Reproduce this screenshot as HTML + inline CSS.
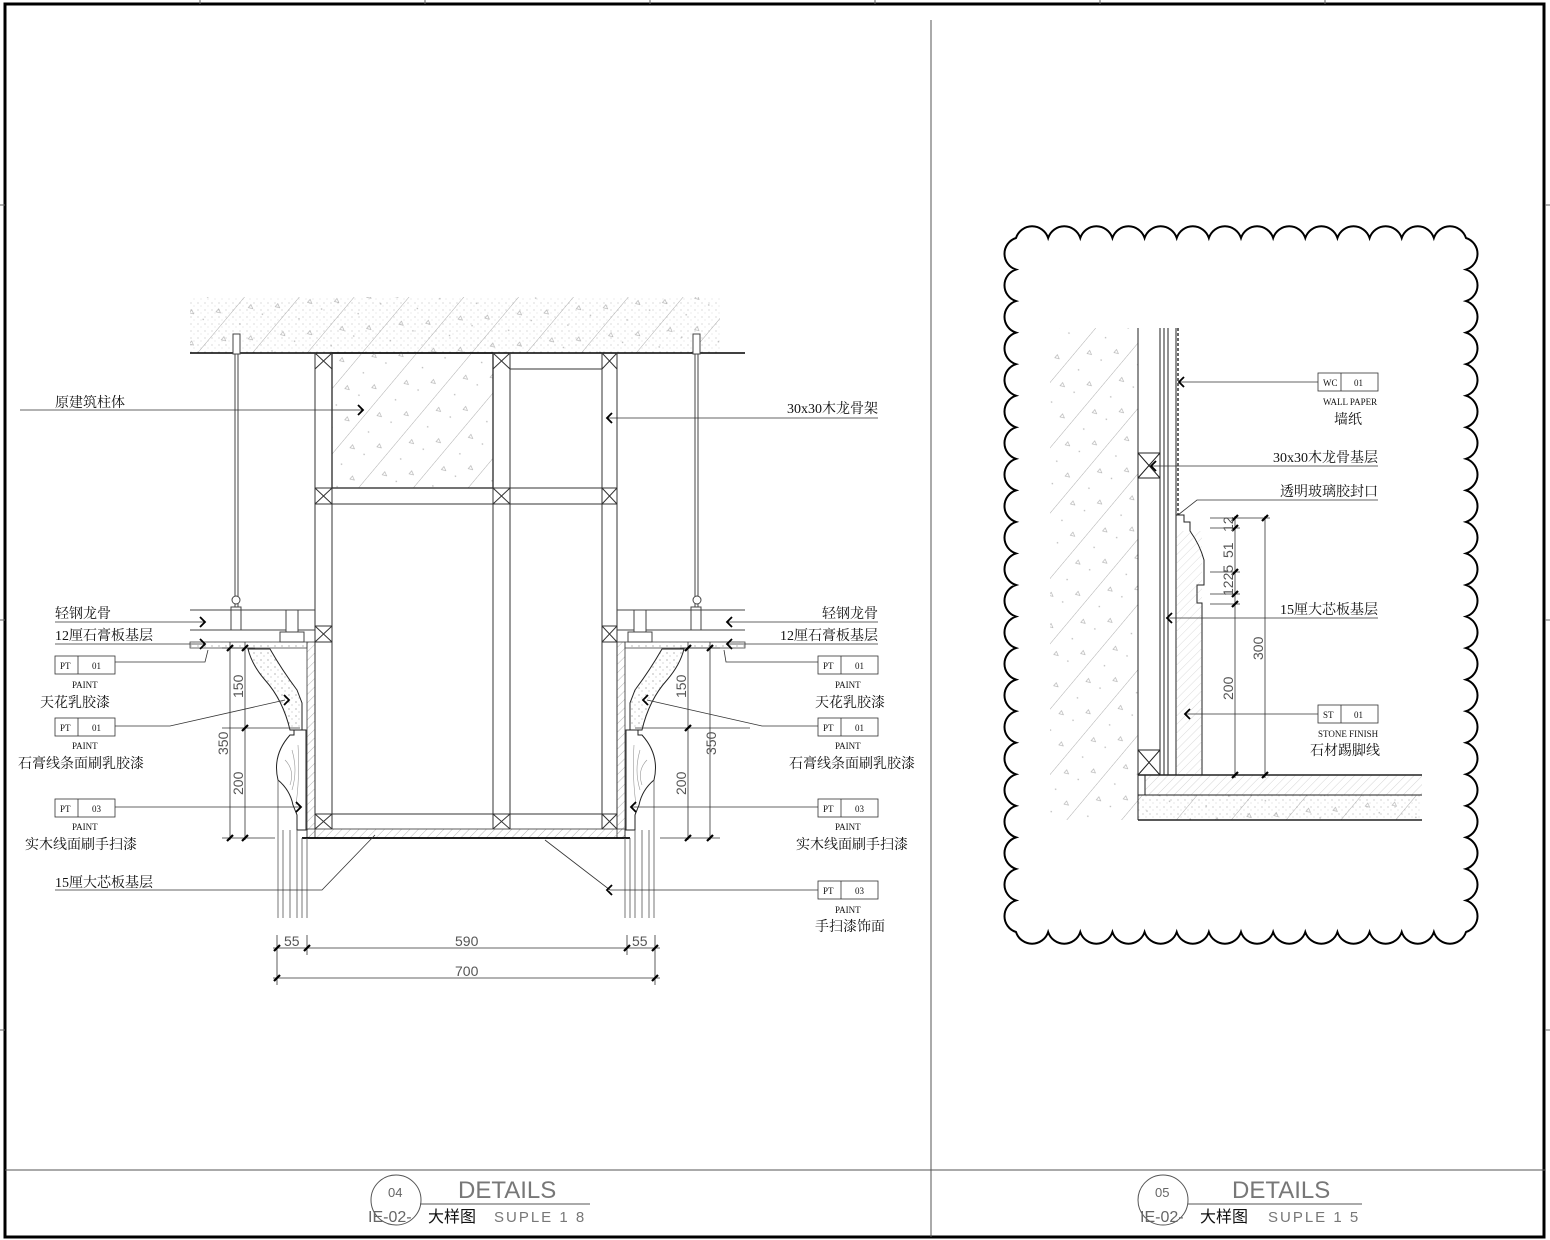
<!DOCTYPE html>
<html><head><meta charset="utf-8"><style>
html,body{margin:0;padding:0;background:#fff}
svg{display:block}
text{font-family:"Liberation Serif","Noto Serif CJK SC","Noto Sans CJK SC",serif;fill:#111}
text.s{font-family:"Liberation Sans","Noto Sans CJK SC",sans-serif}
.dim{font-family:"Liberation Sans",sans-serif;fill:#555;font-size:14px}
</style></head><body>
<svg id="sv" width="1550" height="1240" viewBox="0 0 1550 1240" xmlns="http://www.w3.org/2000/svg">
<defs>
<pattern id="hat" width="42" height="42" patternUnits="userSpaceOnUse" patternTransform="rotate(40)">
<line x1="0" y1="0" x2="0" y2="42" stroke="#999" stroke-width="0.8"/>
<circle cx="14" cy="10" r="0.8" fill="#bbb"/><circle cx="25" cy="30" r="0.8" fill="#bbb"/>
<path d="M30 12 l4 2 l-4 2z" fill="none" stroke="#aaa" stroke-width="0.6"/>
<path d="M10 30 l4 2 l-4 2z" fill="none" stroke="#aaa" stroke-width="0.6"/>
</pattern>
<pattern id="fine" width="6" height="6" patternUnits="userSpaceOnUse" patternTransform="rotate(45)">
<line x1="0" y1="0" x2="0" y2="6" stroke="#888" stroke-width="0.6"/>
</pattern>
<pattern id="dots" width="7" height="7" patternUnits="userSpaceOnUse">
<circle cx="2" cy="2" r="0.6" fill="#888"/><circle cx="5" cy="5" r="0.5" fill="#999"/>
</pattern>
</defs>
<rect x="5" y="4" width="1539" height="1233" fill="none" stroke="#000" stroke-width="3"/>
<g stroke="#666" stroke-width="1">
<line x1="200" y1="0" x2="200" y2="4"/><line x1="425" y1="0" x2="425" y2="4"/><line x1="650" y1="0" x2="650" y2="4"/><line x1="875" y1="0" x2="875" y2="4"/><line x1="1100" y1="0" x2="1100" y2="4"/><line x1="1325" y1="0" x2="1325" y2="4"/>
<line x1="0" y1="205" x2="5" y2="205"/><line x1="0" y1="620" x2="5" y2="620"/><line x1="0" y1="1030" x2="5" y2="1030"/>
<line x1="1545" y1="205" x2="1550" y2="205"/><line x1="1545" y1="620" x2="1550" y2="620"/><line x1="1545" y1="1030" x2="1550" y2="1030"/>
</g>
<line x1="931" y1="20" x2="931" y2="1237" stroke="#555" stroke-width="1"/>
<line x1="5" y1="1170" x2="1545" y2="1170" stroke="#555" stroke-width="1"/>

<rect x="190" y="297" width="530" height="56" fill="url(#hat)"/>
<rect x="190" y="297" width="530" height="56" fill="url(#dots)" opacity="0.5"/>
<line x1="190" y1="353" x2="745" y2="353" stroke="#000" stroke-width="1.5"/>
<rect x="332" y="353" width="161" height="135" fill="url(#hat)" stroke="#000" stroke-width="1.3"/>
<g stroke="#333" stroke-width="1" fill="none">
<line x1="315" y1="353" x2="315" y2="829"/><line x1="332" y1="353" x2="332" y2="829"/>
<line x1="493" y1="353" x2="493" y2="829"/><line x1="510" y1="353" x2="510" y2="829"/>
<line x1="602" y1="353" x2="602" y2="829"/><line x1="617" y1="353" x2="617" y2="829"/>
<line x1="510" y1="369" x2="602" y2="369"/>
<line x1="315" y1="488" x2="617" y2="488"/><line x1="315" y1="504" x2="617" y2="504"/>
<line x1="315" y1="626" x2="332" y2="626"/><line x1="315" y1="642" x2="332" y2="642"/>
<line x1="602" y1="626" x2="617" y2="626"/><line x1="602" y1="642" x2="617" y2="642"/>
<line x1="315" y1="814" x2="617" y2="814"/>
<path d="M315 353 L332 369 M332 353 L315 369 M493 353 L510 369 M510 353 L493 369 M602 353 L617 369 M617 353 L602 369"/>
<path d="M315 488 L332 504 M332 488 L315 504 M493 488 L510 504 M510 488 L493 504 M602 488 L617 504 M617 488 L602 504"/>
<path d="M315 626 L332 642 M332 626 L315 642 M602 626 L617 642 M617 626 L602 642"/>
<path d="M315 814 L332 829 M332 814 L315 829 M493 814 L510 829 M510 814 L493 829 M602 814 L617 829 M617 814 L602 829"/>
</g>
<rect x="307" y="642" width="8" height="196" fill="url(#fine)" stroke="#333" stroke-width="0.8"/>
<rect x="617" y="642" width="8" height="196" fill="url(#fine)" stroke="#333" stroke-width="0.8"/>
<rect x="307" y="829" width="318" height="9" fill="url(#fine)" stroke="#333" stroke-width="0.8"/>
<line x1="302" y1="838" x2="630" y2="838" stroke="#000" stroke-width="1.8"/>
<rect x="190" y="642" width="117" height="6" fill="url(#dots)" stroke="#444" stroke-width="0.8"/>
<rect x="625" y="642" width="120" height="6" fill="url(#dots)" stroke="#444" stroke-width="0.8"/>
<g stroke="#444" stroke-width="1" fill="#fff">
<line x1="235" y1="340" x2="235" y2="620"/><line x1="238" y1="340" x2="238" y2="620"/>
<line x1="695" y1="340" x2="695" y2="620"/><line x1="698" y1="340" x2="698" y2="620"/>
<rect x="233" y="334" width="7" height="20"/><rect x="693" y="334" width="7" height="20"/>
<circle cx="236" cy="600" r="4"/><circle cx="697" cy="600" r="4"/>
<rect x="231" y="607" width="10" height="23"/><rect x="691" y="607" width="10" height="23"/>
<line x1="190" y1="610" x2="315" y2="610"/><line x1="190" y1="630" x2="315" y2="630"/>
<line x1="617" y1="610" x2="745" y2="610"/><line x1="617" y1="630" x2="745" y2="630"/>
<rect x="286" y="610" width="12" height="25"/><rect x="280" y="632" width="24" height="10"/>
<rect x="634" y="610" width="12" height="25"/><rect x="628" y="632" width="24" height="10"/>
</g>
<path d="M248 649 L270 649 Q282 670 297 690 L302 703 L302 730 L290 730 Q283 700 265 680 Q252 665 248 649Z" fill="url(#dots)" stroke="#222" stroke-width="1"/>
<path d="M684 649 L662 649 Q650 670 635 690 L630 703 L630 730 L642 730 Q649 700 667 680 Q680 665 684 649Z" fill="url(#dots)" stroke="#222" stroke-width="1"/>
<path d="M306 730 L294 730 L294 735 L290 735 Q272 755 278 780 Q290 790 293 805 L297 815 L297 830 L306 830Z" fill="#fff" stroke="#222" stroke-width="1"/>
<path d="M626 730 L638 730 L638 735 L642 735 Q660 755 654 780 Q642 790 639 805 L635 815 L635 830 L626 830Z" fill="#fff" stroke="#222" stroke-width="1"/>
<g stroke="#999" stroke-width="0.6" fill="none">
<path d="M285 760 q10 10 5 25 M292 750 q6 20 0 40 M298 745 q2 30 -2 60"/>
<path d="M647 760 q-10 10 -5 25 M640 750 q-6 20 0 40 M634 745 q-2 30 2 60"/>
</g>
<g stroke="#555" stroke-width="0.8">
<line x1="278" y1="780" x2="278" y2="918"/><line x1="283" y1="830" x2="283" y2="918"/><line x1="290" y1="830" x2="290" y2="918"/><line x1="297" y1="830" x2="297" y2="918"/><line x1="302" y1="838" x2="302" y2="918"/><line x1="307" y1="838" x2="307" y2="918"/>
<line x1="654" y1="780" x2="654" y2="918"/><line x1="649" y1="830" x2="649" y2="918"/><line x1="642" y1="830" x2="642" y2="918"/><line x1="635" y1="830" x2="635" y2="918"/><line x1="630" y1="838" x2="630" y2="918"/><line x1="625" y1="838" x2="625" y2="918"/>
</g>
<g stroke="#333" stroke-width="0.8">
<line x1="230" y1="642" x2="230" y2="840"/><line x1="245" y1="642" x2="245" y2="840"/>
<line x1="222" y1="648" x2="255" y2="648"/><line x1="222" y1="728" x2="300" y2="728"/><line x1="222" y1="838" x2="275" y2="838"/>
<line x1="710" y1="642" x2="710" y2="840"/><line x1="688" y1="642" x2="688" y2="840"/>
<line x1="680" y1="648" x2="720" y2="648"/><line x1="635" y1="728" x2="750" y2="728"/><line x1="660" y1="838" x2="720" y2="838"/>
<line x1="273" y1="948" x2="660" y2="948"/><line x1="273" y1="978" x2="660" y2="978"/>
<line x1="277" y1="935" x2="277" y2="985"/><line x1="307" y1="935" x2="307" y2="955"/><line x1="627" y1="935" x2="627" y2="955"/><line x1="655" y1="935" x2="655" y2="985"/>
</g>
<g stroke="#000" stroke-width="2.2">
<path d="M227 651 l6 -6 M242 651 l6 -6 M242 731 l6 -6 M227 841 l6 -6 M242 841 l6 -6"/>
<path d="M707 651 l6 -6 M685 651 l6 -6 M685 731 l6 -6 M707 841 l6 -6 M685 841 l6 -6"/>
<path d="M274 951 l6 -6 M304 951 l6 -6 M624 951 l6 -6 M652 951 l6 -6 M274 981 l6 -6 M652 981 l6 -6"/>
</g>
<text class="dim" transform="translate(243,698) rotate(-90)">150</text>
<text class="dim" transform="translate(243,795) rotate(-90)">200</text>
<text class="dim" transform="translate(228,755) rotate(-90)">350</text>
<text class="dim" transform="translate(686,698) rotate(-90)">150</text>
<text class="dim" transform="translate(686,795) rotate(-90)">200</text>
<text class="dim" transform="translate(716,755) rotate(-90)">350</text>
<text class="dim" x="284" y="946">55</text><text class="dim" x="455" y="946">590</text><text class="dim" x="632" y="946">55</text>
<text class="dim" x="455" y="976">700</text>

<g stroke="#333" stroke-width="0.8" fill="none">
<line x1="20" y1="410" x2="362" y2="410"/>
<line x1="878" y1="418" x2="608" y2="418"/>
<line x1="55" y1="622" x2="205" y2="622"/><line x1="55" y1="644" x2="205" y2="644"/>
<polyline points="115,662 205,662 208,650"/>
<polyline points="115,726 170,726 285,700"/>
<polyline points="115,807 300,807"/>
<polyline points="55,890 322,890 375,835"/>
<line x1="878" y1="622" x2="728" y2="622"/><line x1="878" y1="644" x2="728" y2="644"/>
<polyline points="818,662 726,662 724,650"/>
<polyline points="818,726 762,726 647,700"/>
<polyline points="818,807 632,807"/>
<polyline points="818,890 610,890 545,840"/>
</g>
<g stroke="#000" stroke-width="1.8" fill="none">
<path d="M358 405 l5 5 l-5 5 M612 413 l-5 5 l5 5 M200 617 l5 5 l-5 5 M200 639 l5 5 l-5 5 M732 617 l-5 5 l5 5 M732 639 l-5 5 l5 5 M284 695 l5 5 l-5 5 M648 695 l-5 5 l5 5 M296 802 l5 5 l-5 5 M636 802 l-5 5 l5 5 M612 885 l-5 5 l5 5"/>
</g>
<g font-size="14">
<text x="55" y="407">原建筑柱体</text>
<text x="878" y="413" text-anchor="end">30x30木龙骨架</text>
<text x="55" y="618">轻钢龙骨</text><text x="55" y="640">12厘石膏板基层</text>
<text x="878" y="618" text-anchor="end">轻钢龙骨</text><text x="878" y="640" text-anchor="end">12厘石膏板基层</text>
<text x="40" y="707">天花乳胶漆</text><text x="18" y="768">石膏线条面刷乳胶漆</text>
<text x="25" y="849">实木线面刷手扫漆</text><text x="55" y="887">15厘大芯板基层</text>
<text x="885" y="707" text-anchor="end">天花乳胶漆</text><text x="915" y="768" text-anchor="end">石膏线条面刷乳胶漆</text>
<text x="908" y="849" text-anchor="end">实木线面刷手扫漆</text><text x="885" y="931" text-anchor="end">手扫漆饰面</text>
</g>
<g stroke="#333" stroke-width="0.8" fill="#fff">
<rect x="55" y="656" width="60" height="18"/><line x1="78" y1="656" x2="78" y2="674"/>
<rect x="55" y="718" width="60" height="18"/><line x1="78" y1="718" x2="78" y2="736"/>
<rect x="55" y="799" width="60" height="18"/><line x1="78" y1="799" x2="78" y2="817"/>
<rect x="818" y="656" width="60" height="18"/><line x1="841" y1="656" x2="841" y2="674"/>
<rect x="818" y="718" width="60" height="18"/><line x1="841" y1="718" x2="841" y2="736"/>
<rect x="818" y="799" width="60" height="18"/><line x1="841" y1="799" x2="841" y2="817"/>
<rect x="818" y="881" width="60" height="18"/><line x1="841" y1="881" x2="841" y2="899"/>
</g>
<g font-size="9">
<text x="60" y="669">PT</text><text x="92" y="669">01</text><text x="72" y="688">PAINT</text>
<text x="60" y="731">PT</text><text x="92" y="731">01</text><text x="72" y="749">PAINT</text>
<text x="60" y="812">PT</text><text x="92" y="812">03</text><text x="72" y="830">PAINT</text>
<text x="823" y="669">PT</text><text x="855" y="669">01</text><text x="835" y="688">PAINT</text>
<text x="823" y="731">PT</text><text x="855" y="731">01</text><text x="835" y="749">PAINT</text>
<text x="823" y="812">PT</text><text x="855" y="812">03</text><text x="835" y="830">PAINT</text>
<text x="823" y="894">PT</text><text x="855" y="894">03</text><text x="835" y="913">PAINT</text>
</g>

<path id="cloud" fill="none" stroke="#000" stroke-width="2"/>
<rect x="1050" y="328" width="88" height="492" fill="url(#hat)"/>
<rect x="1138" y="795" width="284" height="25" fill="url(#hat)"/>
<rect x="1138" y="795" width="284" height="25" fill="url(#dots)" opacity="0.6"/>
<rect x="1145" y="775" width="277" height="20" fill="url(#fine)" opacity="0.6"/>
<g stroke="#222" stroke-width="1" fill="none">
<line x1="1138" y1="328" x2="1138" y2="820"/>
<line x1="1160" y1="328" x2="1160" y2="775"/><line x1="1164" y1="328" x2="1164" y2="775"/><line x1="1168" y1="328" x2="1168" y2="775"/><line x1="1176" y1="328" x2="1176" y2="775"/>
<rect x="1138" y="453" width="22" height="25"/><path d="M1138 453 L1160 478 M1160 453 L1138 478"/>
<rect x="1138" y="750" width="22" height="25"/><path d="M1138 750 L1160 775 M1160 750 L1138 775"/>
<line x1="1138" y1="775" x2="1422" y2="775" stroke-width="1.5"/>
<line x1="1145" y1="775" x2="1145" y2="795"/>
<line x1="1138" y1="795" x2="1422" y2="795"/>
<line x1="1138" y1="820" x2="1422" y2="820" stroke-width="1.5"/>
<path d="M1176 515 L1184 515 L1184 522 L1190 522 L1190 531 Q1200 545 1204 560 L1204 585 L1197 585 L1197 603 L1202 603 L1202 775" />
</g>
<rect x="1176" y="531" width="26" height="244" fill="url(#fine)" opacity="0.5"/>
<line x1="1178" y1="328" x2="1178" y2="515" stroke="#000" stroke-width="1.2" stroke-dasharray="3,2"/>
<g stroke="#333" stroke-width="0.8" fill="none">
<line x1="1180" y1="382" x2="1318" y2="382"/>
<line x1="1378" y1="466" x2="1152" y2="466"/>
<polyline points="1378,500 1197,500 1178,515"/>
<line x1="1378" y1="618" x2="1168" y2="618"/>
<line x1="1318" y1="714" x2="1186" y2="714"/>
<line x1="1235" y1="516" x2="1235" y2="778"/><line x1="1265" y1="516" x2="1265" y2="778"/>
<path d="M1210 518 L1270 518 M1210 528 L1240 528 M1210 572 L1240 572 M1210 594 L1240 594 M1210 604 L1240 604"/>
</g>
<g stroke="#000" stroke-width="2.2">
<path d="M1232 521 l6 -6 M1262 521 l6 -6 M1232 531 l6 -6 M1232 575 l6 -6 M1232 597 l6 -6 M1232 607 l6 -6 M1232 778 l6 -6 M1262 778 l6 -6"/>
</g>
<g stroke="#000" stroke-width="1.8" fill="none">
<path d="M1184 377 l-5 5 l5 5 M1156 461 l-5 5 l5 5 M1172 613 l-5 5 l5 5 M1190 709 l-5 5 l5 5"/>
</g>
<text class="dim" transform="translate(1233,532) rotate(-90)">12</text>
<text class="dim" transform="translate(1233,558) rotate(-90)">51</text>
<text class="dim" transform="translate(1233,596) rotate(-90)">1225</text>
<text class="dim" transform="translate(1233,700) rotate(-90)">200</text>
<text class="dim" transform="translate(1263,660) rotate(-90)">300</text>
<g stroke="#333" stroke-width="0.8" fill="#fff">
<rect x="1318" y="373" width="60" height="18"/><line x1="1341" y1="373" x2="1341" y2="391"/>
<rect x="1318" y="705" width="60" height="18"/><line x1="1341" y1="705" x2="1341" y2="723"/>
</g>
<g font-size="9">
<text x="1323" y="386">WC</text><text x="1354" y="386">01</text><text x="1323" y="405">WALL PAPER</text>
<text x="1323" y="718">ST</text><text x="1354" y="718">01</text><text x="1318" y="737">STONE FINISH</text>
</g>
<g font-size="14">
<text x="1334" y="424">墙纸</text>
<text x="1378" y="462" text-anchor="end">30x30木龙骨基层</text>
<text x="1378" y="496" text-anchor="end">透明玻璃胶封口</text>
<text x="1378" y="614" text-anchor="end">15厘大芯板基层</text>
<text x="1310" y="755">石材踢脚线</text>
</g>

<g stroke="#555" stroke-width="1" fill="none">
<circle cx="396" cy="1200" r="25"/><line x1="420" y1="1204" x2="590" y2="1204"/>
<circle cx="1163" cy="1200" r="25"/><line x1="1188" y1="1204" x2="1362" y2="1204"/>
</g>
<text x="388" y="1197" font-size="13" class="s" style="fill:#666">04</text>
<text x="458" y="1198" font-size="24" class="s" style="fill:#777">DETAILS</text>
<text x="368" y="1222" font-size="16" class="s" style="fill:#666">IE-02-</text><text x="428" y="1222" font-size="16" class="s">大样图</text>
<text x="494" y="1222" font-size="15" class="s" style="fill:#777;letter-spacing:2px">SUPLE 1 8</text>
<text x="1155" y="1197" font-size="13" class="s" style="fill:#666">05</text>
<text x="1232" y="1198" font-size="24" class="s" style="fill:#777">DETAILS</text>
<text x="1140" y="1222" font-size="16" class="s" style="fill:#666">IE-02-</text><text x="1200" y="1222" font-size="16" class="s">大样图</text>
<text x="1268" y="1222" font-size="15" class="s" style="fill:#777;letter-spacing:2px">SUPLE 1 5</text>
</svg>
<script>
(function(){
var x0=1016,y0=238,x1=1466,y1=932,d;
function side(ax,ay,bx,by){var L=Math.hypot(bx-ax,by-ay);var k=Math.max(1,Math.round(L/32));var dx=(bx-ax)/k,dy=(by-ay)/k,r=Math.hypot(dx,dy)/2*1.05;for(var j=0;j<k;j++){d+=" A"+r+" "+r+" 0 0 1 "+(ax+dx*(j+1))+" "+(ay+dy*(j+1));}}
d="M"+x0+" "+y0;
side(x0,y0,x1,y0);side(x1,y0,x1,y1);side(x1,y1,x0,y1);side(x0,y1,x0,y0);
document.getElementById("cloud").setAttribute("d",d+"Z");
})();
</script>
</body></html>
